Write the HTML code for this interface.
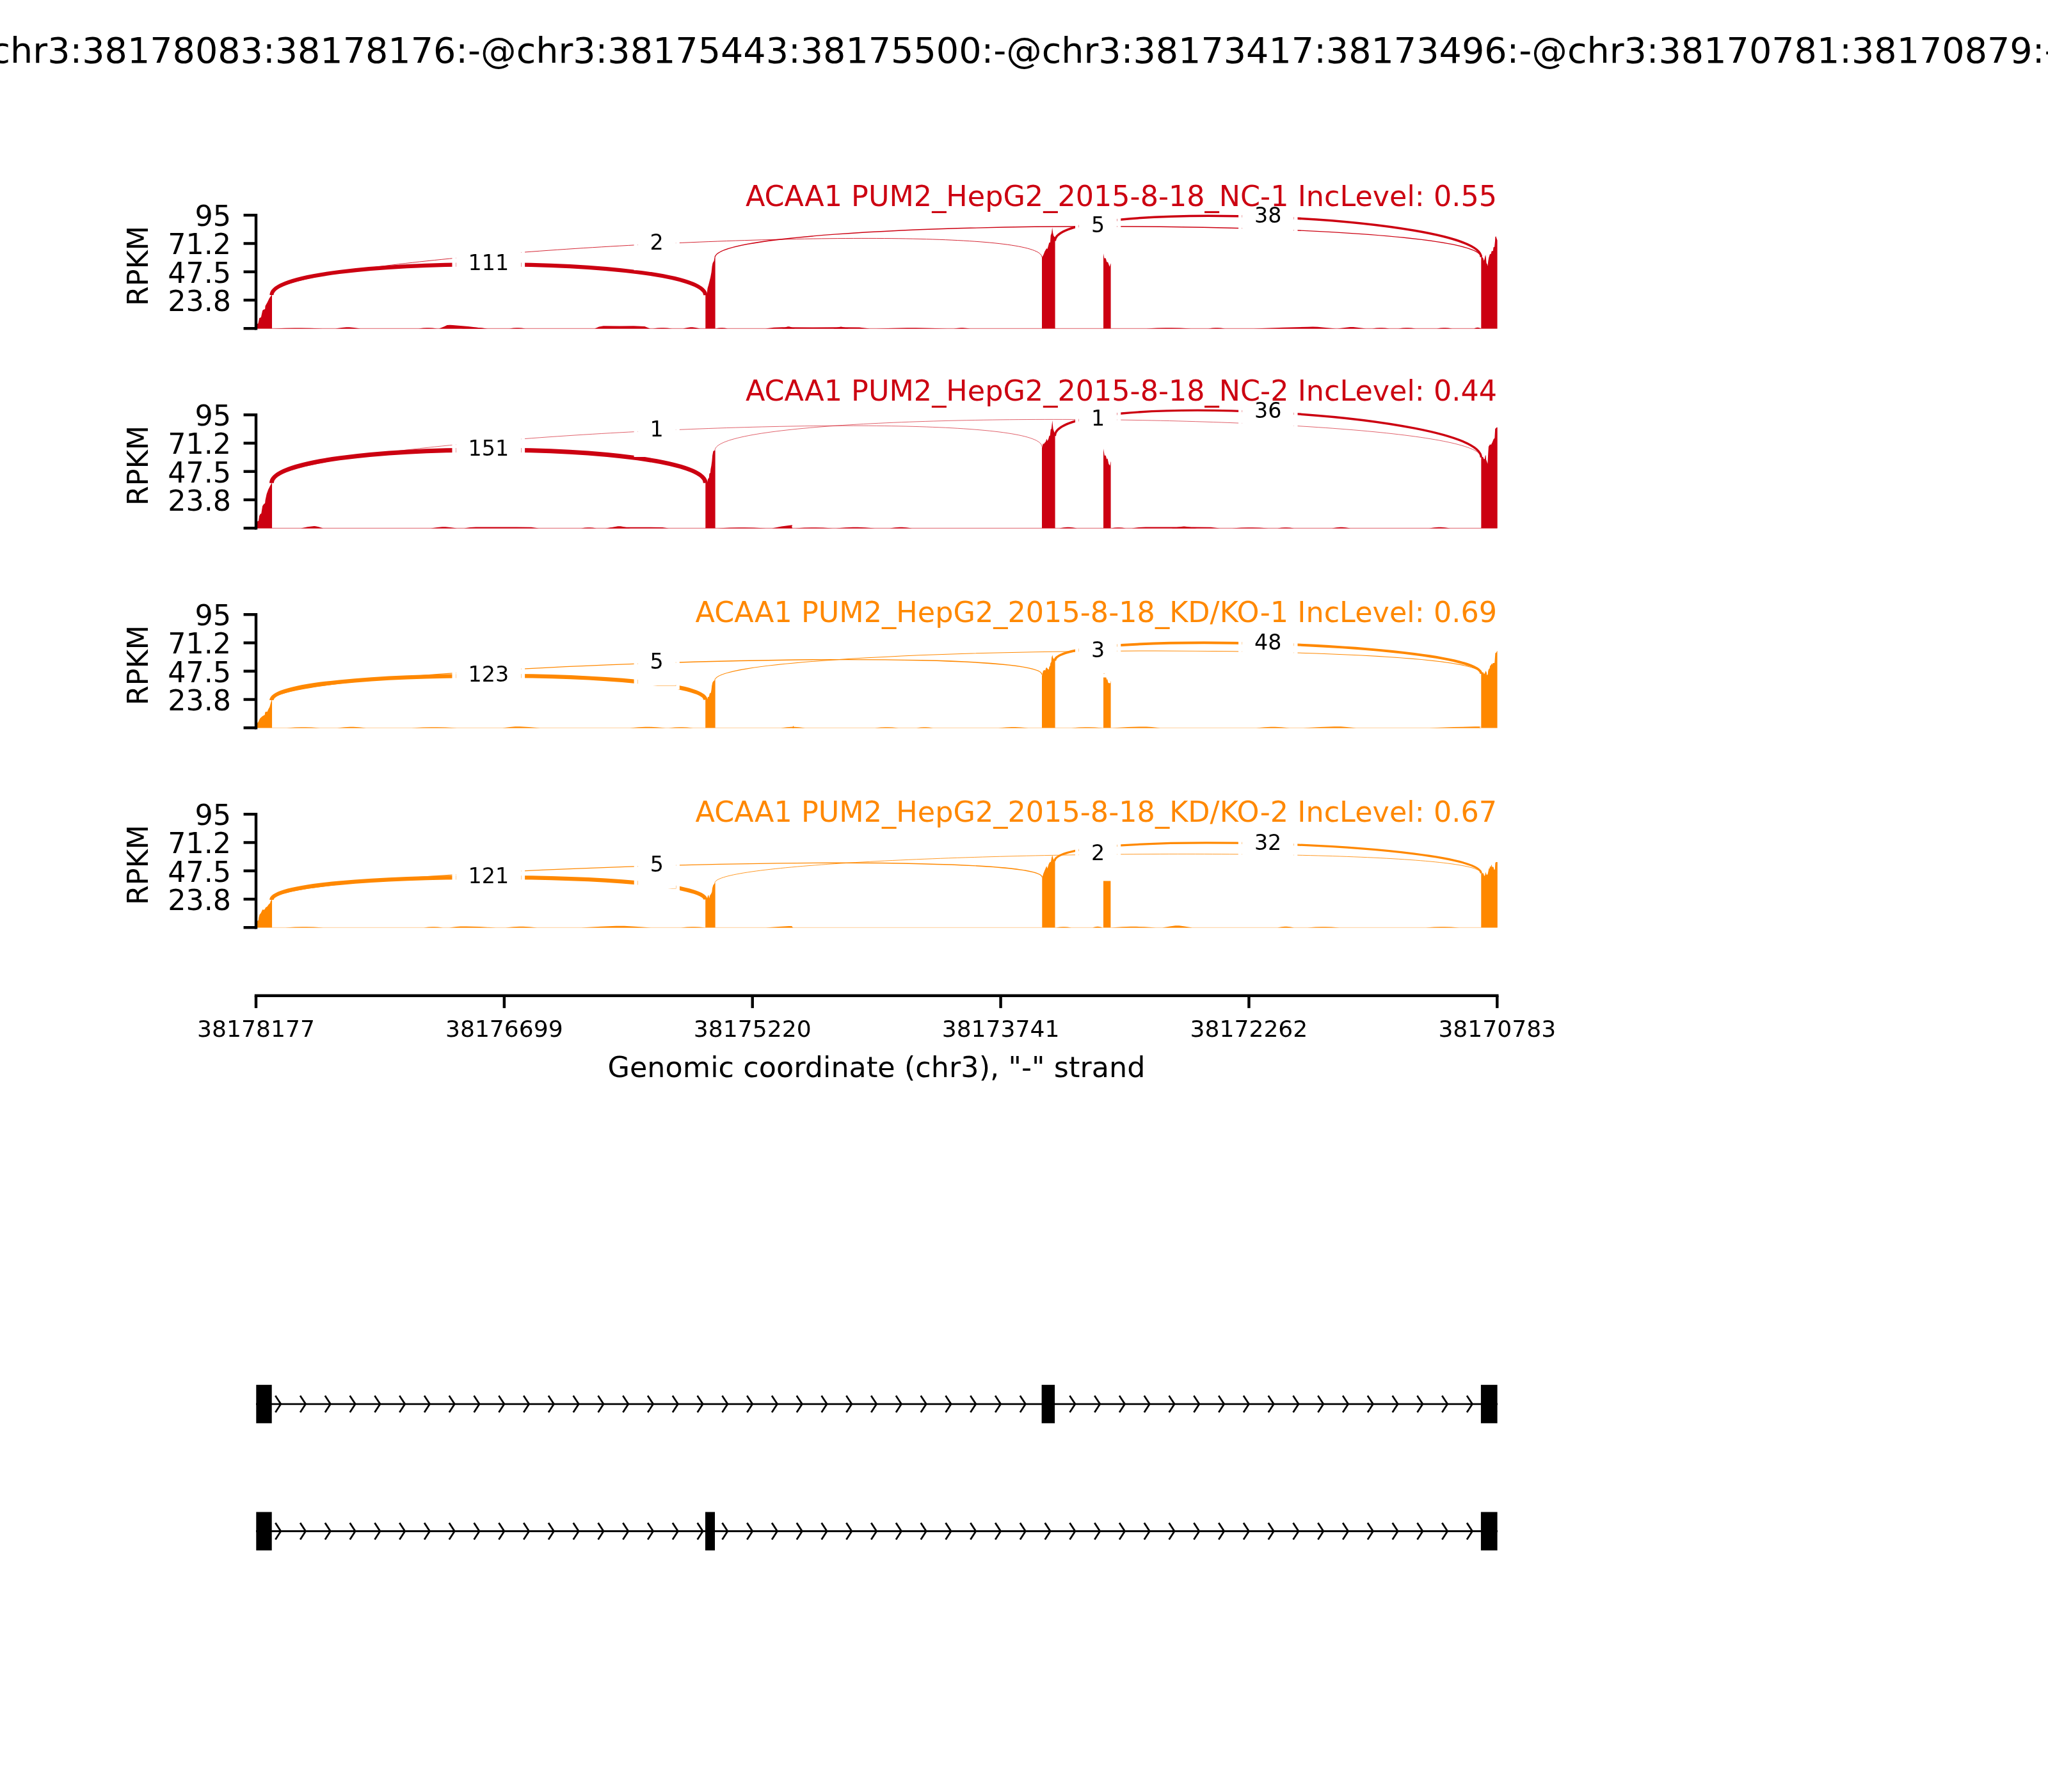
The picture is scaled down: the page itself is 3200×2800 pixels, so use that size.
<!DOCTYPE html>
<html lang="en"><head><meta charset="utf-8"><title>Sashimi plot</title>
<style>html,body{margin:0;padding:0;background:#fff;}body{width:3200px;height:2800px;overflow:hidden;}svg{display:block;}</style>
</head><body>
<svg width="3200" height="2800" viewBox="0 0 3200 2800" font-family='"DejaVu Sans", "Liberation Sans", sans-serif'>
<rect x="0" y="0" width="3200" height="2800" fill="#fff"/>
<g>
<line x1="402" y1="513.3" x2="2339.5" y2="513.3" stroke="#CC0011" stroke-width="1" stroke-opacity="0.62"/>
<path d="M427 513.6 L446.25 512.72 L460.88 512.44 L465.5 512.4 L470.12 512.44 L484.75 512.72 L504 513.6Z" fill="#CC0011"/>
<path d="M524 513.6 L533.75 512 L541.16 511.3 L543.5 511.2 L545.84 511.3 L553.25 512 L563 513.6Z" fill="#CC0011"/>
<path d="M654 513.6 L661.25 512.6 L666.76 512.25 L668.5 512.2 L670.24 512.25 L675.75 512.6 L683 513.6Z" fill="#CC0011"/>
<path d="M686 513.6 L694.51 509.96 L698.58 508.07 L703.02 507.8 L707.46 508.07 L731.51 509.96 L760 513.6Z" fill="#CC0011"/>
<path d="M720 513.6 L730.5 512.3 L738.48 511.78 L741 511.7 L743.52 511.78 L751.5 512.3 L762 513.6Z" fill="#CC0011"/>
<path d="M796 513.6 L802.25 512.6 L807 512.25 L808.5 512.2 L810 512.25 L814.75 512.6 L821 513.6Z" fill="#CC0011"/>
<path d="M929 513.6 L935.96 510.4 L942.92 509.2 L968.15 509.6 L989.9 509.2 L1007.3 510 L1016 513.6Z" fill="#CC0011"/>
<path d="M1020 513.6 L1027.5 512.6 L1033.2 512.25 L1035 512.2 L1036.8 512.25 L1042.5 512.6 L1050 513.6Z" fill="#CC0011"/>
<path d="M1067 513.6 L1073.75 512 L1078.88 511.3 L1080.5 511.2 L1082.12 511.3 L1087.25 512 L1094 513.6Z" fill="#CC0011"/>
<path d="M1118 513.6 L1122.75 512.6 L1126.36 512.25 L1127.5 512.2 L1128.64 512.25 L1132.25 512.6 L1137 513.6Z" fill="#CC0011"/>
<path d="M1196 513.6 L1209.04 511.8 L1222.08 511.2 L1269.35 511.4 L1310.1 511.2 L1342.7 511.6 L1359 513.6Z" fill="#CC0011"/>
<path d="M1222 513.6 L1227 511.4 L1230.8 510.35 L1232 510.2 L1233.2 510.35 L1237 511.4 L1242 513.6Z" fill="#CC0011"/>
<path d="M1302 513.6 L1308 511.64 L1312.56 510.73 L1314 510.6 L1315.44 510.73 L1320 511.64 L1326 513.6Z" fill="#CC0011"/>
<path d="M1369 513.6 L1396.75 512.66 L1417.84 512.35 L1424.5 512.3 L1431.16 512.35 L1452.25 512.66 L1480 513.6Z" fill="#CC0011"/>
<path d="M1490 513.6 L1496.5 512.66 L1501.44 512.35 L1503 512.3 L1504.56 512.35 L1509.5 512.66 L1516 513.6Z" fill="#CC0011"/>
<path d="M1791 513.6 L1808.5 512.6 L1821.8 512.25 L1826 512.2 L1830.2 512.25 L1843.5 512.6 L1861 513.6Z" fill="#CC0011"/>
<path d="M1888 513.6 L1894.5 512.6 L1899.44 512.25 L1901 512.2 L1902.56 512.25 L1907.5 512.6 L1914 513.6Z" fill="#CC0011"/>
<path d="M1959 513.6 L2005.08 511.64 L2043.48 510.73 L2051.16 510.6 L2058.84 510.73 L2069.08 511.64 L2087 513.6Z" fill="#CC0011"/>
<path d="M2090 513.6 L2101 511.88 L2109.36 511.11 L2112 511 L2114.64 511.11 L2123 511.88 L2134 513.6Z" fill="#CC0011"/>
<path d="M2144 513.6 L2150.75 512.6 L2155.88 512.25 L2157.5 512.2 L2159.12 512.25 L2164.25 512.6 L2171 513.6Z" fill="#CC0011"/>
<path d="M2185 513.6 L2191.75 512.6 L2196.88 512.25 L2198.5 512.2 L2200.12 512.25 L2205.25 512.6 L2212 513.6Z" fill="#CC0011"/>
<path d="M2245 513.6 L2251 512.6 L2255.56 512.25 L2257 512.2 L2258.44 512.25 L2263 512.6 L2269 513.6Z" fill="#CC0011"/>
<path d="M2303 513.6 L2305.88 512.3 L2308.06 511.78 L2308.75 511.7 L2309.44 511.78 L2311.62 512.3 L2314.5 513.6Z" fill="#CC0011"/>
<path d="M401 513.2 L401 507.5 L402.05 506.1 L403.4 505.6 L405.2 497.1 L407.9 495.8 L410.1 485.5 L411.4 484 L414.1 482.9 L414.55 477.9 L417.7 472.6 L420.8 465.9 L424.4 461 L425 461 L425 513.2Z" fill="#CC0011"/>
<path d="M1102.3 513.2 L1102.3 461.3 L1104.6 458.3 L1105.6 450.3 L1107.1 445.2 L1108.6 439.2 L1110.1 433.2 L1111.6 425.2 L1112.6 416.1 L1113.6 411.1 L1115.6 407.6 L1116.4 402.6 L1117.6 402.6 L1117.6 513.2Z" fill="#CC0011"/>
<path d="M1628 513.2 L1628 402.5 L1630.2 398.4 L1632.5 392.7 L1635.3 387.9 L1636.6 388.9 L1638.2 383.2 L1639.4 379 L1641 378.7 L1641.7 367.9 L1643.2 364.1 L1644.1 355.2 L1645.2 364.1 L1646.1 367.9 L1647.7 370.2 L1648.6 371.1 L1648.6 513.2Z" fill="#CC0011"/>
<path d="M1724.05 513.2 L1724.05 395.9 L1725.4 403.5 L1727.7 403.5 L1729.3 409.2 L1731.2 409.8 L1733.7 416.8 L1735.3 411.7 L1735.6 412 L1735.6 513.2Z" fill="#CC0011"/>
<path d="M2314.3 513.2 L2314.3 401.8 L2316.8 402.2 L2317.7 404 L2318.6 407.6 L2319.5 404.9 L2320.4 400.4 L2321.25 398.2 L2321.9 403.6 L2322.6 411.2 L2323.7 412.5 L2324.5 415.8 L2325.3 408 L2326.2 402.7 L2327.9 397.3 L2329.7 396.4 L2330.6 392.4 L2332.9 392 L2333.5 386.6 L2335.1 385.7 L2336 376.8 L2336.4 370.1 L2337.4 369.2 L2338.4 372.3 L2339.55 375.4 L2339.55 513.2Z" fill="#CC0011"/>
<path d="M424.4 461 C424.4 396.93 1102.2 397.23 1102.2 461.3" fill="none" stroke="#CC0011" stroke-width="6.1"/>
<path d="M424.4 461 C424.4 393.87 1628 334.87 1628 402" fill="none" stroke="#CC0011" stroke-width="0.85"/>
<path d="M1117 402.6 C1117 338.07 2314.3 337.27 2314.3 401.8" fill="none" stroke="#CC0011" stroke-width="1.38"/>
<path d="M1648.3 376.6 C1648.3 309.8 2314.3 335 2314.3 401.8" fill="none" stroke="#CC0011" stroke-width="3.55"/>
<path fill-rule="evenodd" fill="#fff" d="M706.49 371.97h113.62v82.27h-113.62ZM712.04 377.52h102.51v71.16h-102.51Z"/>
<rect x="712.42" y="377.9" width="101.75" height="70.4" fill="#fff"/>
<path fill-rule="evenodd" fill="#fff" d="M990.6 340.02h71.21v82.27h-71.21ZM996.15 345.57h60.1v71.16h-60.1Z"/>
<rect x="996.53" y="345.95" width="59.34" height="70.4" fill="#fff"/>
<path fill-rule="evenodd" fill="#fff" d="M1680.05 312.67h71.21v82.27h-71.21ZM1685.6 318.22h60.1v71.16h-60.1Z"/>
<rect x="1685.98" y="318.6" width="59.34" height="70.4" fill="#fff"/>
<path fill-rule="evenodd" fill="#fff" d="M1935.09 297.97h92.42v82.27h-92.42ZM1940.65 303.52h81.3v71.16h-81.3Z"/>
<rect x="1941.03" y="303.9" width="80.54" height="70.4" fill="#fff"/>
<path d="M400 333.98 V515.42" stroke="#000" stroke-width="4.44" fill="none"/>
<path d="M400 336.2 H380.56" stroke="#000" stroke-width="4.44" fill="none"/>
<path d="M400 380.45 H380.56" stroke="#000" stroke-width="4.44" fill="none"/>
<path d="M400 424.7 H380.56" stroke="#000" stroke-width="4.44" fill="none"/>
<path d="M400 468.95 H380.56" stroke="#000" stroke-width="4.44" fill="none"/>
<path d="M400 513.2 H380.56" stroke="#000" stroke-width="4.44" fill="none"/>
</g>
<g>
<line x1="402" y1="825.3" x2="2339.5" y2="825.3" stroke="#CC0011" stroke-width="1" stroke-opacity="0.62"/>
<path d="M470 825.6 L480.5 823.28 L488.9 822.16 L491 822 L493.1 822.16 L498 823.28 L505 825.6Z" fill="#CC0011"/>
<path d="M673 825.6 L683.25 824 L691.04 823.3 L693.5 823.2 L695.96 823.3 L703.75 824 L714 825.6Z" fill="#CC0011"/>
<path d="M725 825.6 L734.36 823.94 L743.72 823.4 L777.65 823.58 L806.9 823.4 L830.3 823.76 L842 825.6Z" fill="#CC0011"/>
<path d="M908 825.6 L914 824.6 L918.56 824.25 L920 824.2 L921.44 824.25 L926 824.6 L932 825.6Z" fill="#CC0011"/>
<path d="M946 825.6 L953.92 824.15 L961.84 823.7 L990.55 823.85 L1015.3 823.7 L1035.1 824 L1045 825.6Z" fill="#CC0011"/>
<path d="M950 825.6 L958.75 823.4 L965.4 822.35 L967.5 822.2 L969.6 822.35 L976.25 823.4 L985 825.6Z" fill="#CC0011"/>
<path d="M1121 825.6 L1140 824.6 L1154.44 824.25 L1159 824.2 L1163.56 824.25 L1178 824.6 L1197 825.6Z" fill="#CC0011"/>
<path d="M1206 825.6 L1221.2 822.44 L1234.48 820.83 L1236.4 820.6 L1238.32 820.83 L1237.2 822.44 L1238 825.6Z" fill="#CC0011"/>
<path d="M1242 825.6 L1256.75 824.6 L1267.96 824.25 L1271.5 824.2 L1275.04 824.25 L1286.25 824.6 L1301 825.6Z" fill="#CC0011"/>
<path d="M1306 825.6 L1321.25 824.3 L1332.84 823.78 L1336.5 823.7 L1340.16 823.78 L1351.75 824.3 L1367 825.6Z" fill="#CC0011"/>
<path d="M1390 825.6 L1398.75 824.3 L1405.4 823.78 L1407.5 823.7 L1409.6 823.78 L1416.25 824.3 L1425 825.6Z" fill="#CC0011"/>
<path d="M1655 825.6 L1662 824.3 L1667.32 823.78 L1669 823.7 L1670.68 823.78 L1676 824.3 L1683 825.6Z" fill="#CC0011"/>
<path d="M1736 825.6 L1741.75 824.6 L1746.12 824.25 L1747.5 824.2 L1748.88 824.25 L1753.25 824.6 L1759 825.6Z" fill="#CC0011"/>
<path d="M1768 825.6 L1779.04 823.94 L1790.08 823.4 L1830.1 823.58 L1864.6 823.4 L1892.2 823.76 L1906 825.6Z" fill="#CC0011"/>
<path d="M1830 825.6 L1840 823.64 L1847.6 822.73 L1850 822.6 L1852.4 822.73 L1860 823.64 L1870 825.6Z" fill="#CC0011"/>
<path d="M1925 825.6 L1939.25 824.6 L1950.08 824.25 L1953.5 824.2 L1956.92 824.25 L1967.75 824.6 L1982 825.6Z" fill="#CC0011"/>
<path d="M1996 825.6 L2002.5 824.6 L2007.44 824.25 L2009 824.2 L2010.56 824.25 L2015.5 824.6 L2022 825.6Z" fill="#CC0011"/>
<path d="M2081 825.6 L2088.25 824.3 L2093.76 823.78 L2095.5 823.7 L2097.24 823.78 L2102.75 824.3 L2110 825.6Z" fill="#CC0011"/>
<path d="M2233 825.6 L2241.25 824.3 L2247.52 823.78 L2249.5 823.7 L2251.48 823.78 L2257.75 824.3 L2266 825.6Z" fill="#CC0011"/>
<path d="M401 825.2 L401 816 L402.05 814.8 L404.05 813.8 L405.1 806.3 L406.6 803.3 L408.3 802.3 L410.1 790.7 L412.1 787.7 L414.1 786.2 L414.6 781.2 L416.6 772.1 L419.1 765.1 L422.1 759.1 L424.4 755.1 L425.05 755.1 L425.05 825.2Z" fill="#CC0011"/>
<path d="M1102.3 825.2 L1102.3 754.8 L1105.1 753.8 L1106.1 748.8 L1107.85 746.3 L1108.35 740.25 L1109.85 738.7 L1110.35 733.2 L1111.4 727.7 L1112.4 720.2 L1113.1 712.1 L1114.4 705.1 L1116.4 703.85 L1117.6 703.85 L1117.6 825.2Z" fill="#CC0011"/>
<path d="M1628 825.2 L1628 699.7 L1629.9 692.7 L1630.9 694 L1632.1 692.05 L1634 690.1 L1635.3 685.4 L1636.6 688.9 L1638.2 685.7 L1639.4 681.3 L1640.7 680.6 L1641.7 671.1 L1642.9 669.8 L1644.3 657.1 L1645.5 669.8 L1646.7 673.6 L1647.7 676.2 L1648.6 678.1 L1648.6 825.2Z" fill="#CC0011"/>
<path d="M1724.05 825.2 L1724.05 700.9 L1725.8 711.7 L1727.7 711.7 L1729.3 717.4 L1730.5 716.2 L1732.4 725.1 L1734.3 727.6 L1735.3 721.25 L1735.6 721.5 L1735.6 825.2Z" fill="#CC0011"/>
<path d="M2314.35 825.2 L2314.35 714.8 L2316.1 713.8 L2317.4 714.3 L2318.6 717.3 L2319.9 717.3 L2320.6 712.3 L2321.5 711 L2322.1 718.3 L2323.4 721.8 L2324.4 724.8 L2325.15 710.25 L2325.9 697.7 L2328.2 694.2 L2329.7 694.9 L2331.7 691.2 L2333.7 686.15 L2335.4 684.6 L2336.2 670.1 L2338.95 667.6 L2339.7 668.1 L2339.7 825.2Z" fill="#CC0011"/>
<path d="M424.4 754.8 C424.4 685.73 1102.2 685.73 1102.2 754.8" fill="none" stroke="#CC0011" stroke-width="6.8"/>
<path d="M424.4 754.8 C424.4 683.47 1628 626.67 1628 698" fill="none" stroke="#CC0011" stroke-width="0.62"/>
<path d="M1117 703.85 C1117 632.35 2314.35 643.3 2314.35 714.8" fill="none" stroke="#CC0011" stroke-width="0.62"/>
<path d="M1648.3 681.3 C1648.3 609.37 2314.35 642.87 2314.35 714.8" fill="none" stroke="#CC0011" stroke-width="3.45"/>
<path fill-rule="evenodd" fill="#fff" d="M706.49 661.87h113.62v82.27h-113.62ZM712.04 667.42h102.51v71.16h-102.51Z"/>
<rect x="712.42" y="667.8" width="101.75" height="70.4" fill="#fff"/>
<path fill-rule="evenodd" fill="#fff" d="M990.6 631.77h71.21v82.27h-71.21ZM996.15 637.32h60.1v71.16h-60.1Z"/>
<rect x="996.53" y="637.7" width="59.34" height="70.4" fill="#fff"/>
<path fill-rule="evenodd" fill="#fff" d="M1680.07 614.57h71.21v82.27h-71.21ZM1685.63 620.12h60.1v71.16h-60.1Z"/>
<rect x="1686.01" y="620.5" width="59.34" height="70.4" fill="#fff"/>
<path fill-rule="evenodd" fill="#fff" d="M1935.12 602.97h92.42v82.27h-92.42ZM1940.67 608.52h81.3v71.16h-81.3Z"/>
<rect x="1941.05" y="608.9" width="80.54" height="70.4" fill="#fff"/>
<path d="M400 645.98 V827.42" stroke="#000" stroke-width="4.44" fill="none"/>
<path d="M400 648.2 H380.56" stroke="#000" stroke-width="4.44" fill="none"/>
<path d="M400 692.45 H380.56" stroke="#000" stroke-width="4.44" fill="none"/>
<path d="M400 736.7 H380.56" stroke="#000" stroke-width="4.44" fill="none"/>
<path d="M400 780.95 H380.56" stroke="#000" stroke-width="4.44" fill="none"/>
<path d="M400 825.2 H380.56" stroke="#000" stroke-width="4.44" fill="none"/>
</g>
<g>
<line x1="402" y1="1137.3" x2="2339.5" y2="1137.3" stroke="#FF8800" stroke-width="1" stroke-opacity="0.4"/>
<path d="M448 1137.6 L461 1136.6 L470.88 1136.25 L474 1136.2 L477.12 1136.25 L487 1136.6 L500 1137.6Z" fill="#FF8800"/>
<path d="M527 1137.6 L538.25 1136.3 L546.8 1135.78 L549.5 1135.7 L552.2 1135.78 L560.75 1136.3 L572 1137.6Z" fill="#FF8800"/>
<path d="M643 1137.6 L660.75 1136.6 L674.24 1136.25 L678.5 1136.2 L682.76 1136.25 L696.25 1136.6 L714 1137.6Z" fill="#FF8800"/>
<path d="M785 1137.6 L796.8 1136 L805.06 1135.3 L808.6 1135.2 L812.14 1135.3 L826.3 1136 L844 1137.6Z" fill="#FF8800"/>
<path d="M984 1137.6 L998 1136.3 L1008.64 1135.78 L1012 1135.7 L1015.36 1135.78 L1026 1136.3 L1040 1137.6Z" fill="#FF8800"/>
<path d="M1045 1137.6 L1054.5 1136.6 L1061.72 1136.25 L1064 1136.2 L1066.28 1136.25 L1073.5 1136.6 L1083 1137.6Z" fill="#FF8800"/>
<path d="M1220 1137.6 L1229.5 1136.3 L1236.72 1135.78 L1239 1135.7 L1241.28 1135.78 L1248.5 1136.3 L1258 1137.6Z" fill="#FF8800"/>
<path d="M1238 1137.6 L1238.75 1135.4 L1239.32 1134.35 L1239.5 1134.2 L1239.68 1134.35 L1240.25 1135.4 L1241 1137.6Z" fill="#FF8800"/>
<path d="M1367 1137.6 L1376.25 1136.6 L1383.28 1136.25 L1385.5 1136.2 L1387.72 1136.25 L1394.75 1136.6 L1404 1137.6Z" fill="#FF8800"/>
<path d="M1432 1137.6 L1438.5 1136.6 L1443.44 1136.25 L1445 1136.2 L1446.56 1136.25 L1451.5 1136.6 L1458 1137.6Z" fill="#FF8800"/>
<path d="M1560 1137.6 L1571.75 1136.48 L1580.68 1136.06 L1583.5 1136 L1586.32 1136.06 L1595.25 1136.48 L1607 1137.6Z" fill="#FF8800"/>
<path d="M1674 1137.6 L1686.25 1136.6 L1695.56 1136.25 L1698.5 1136.2 L1701.44 1136.25 L1710.75 1136.6 L1723 1137.6Z" fill="#FF8800"/>
<path d="M1738 1137.6 L1762.38 1136.12 L1782.25 1135.49 L1786.75 1135.4 L1791.25 1135.49 L1799.88 1136.12 L1813 1137.6Z" fill="#FF8800"/>
<path d="M1963 1137.6 L1976 1136.3 L1985.88 1135.78 L1989 1135.7 L1992.12 1135.78 L2002 1136.3 L2015 1137.6Z" fill="#FF8800"/>
<path d="M2036 1137.6 L2062.97 1136 L2084.97 1135.3 L2089.95 1135.2 L2094.93 1135.3 L2104.47 1136 L2119 1137.6Z" fill="#FF8800"/>
<path d="M2233 1137.6 L2271.24 1136 L2304.64 1135.3 L2309.47 1135.2 L2314.3 1135.3 L2311.49 1136 L2313.5 1137.6Z" fill="#FF8800"/>
<path d="M401 1137.2 L401 1130.2 L402.05 1129.4 L403.4 1128.5 L405.2 1124.5 L406.5 1122.2 L410.1 1119.1 L413.7 1116.9 L414.3 1112.9 L415.45 1112 L417.7 1112 L419 1108.8 L421.25 1104.8 L423 1098.6 L424.4 1094.1 L425.05 1094.1 L425.05 1137.2Z" fill="#FF8800"/>
<path d="M1102.2 1137.2 L1102.2 1093.5 L1105.3 1092.3 L1105.9 1089.2 L1107.85 1088.4 L1108.8 1083.75 L1110.8 1082.2 L1111.6 1077.5 L1112.3 1071.25 L1113.3 1066.6 L1114.7 1064.2 L1116.6 1062.85 L1117.6 1062.85 L1117.6 1137.2Z" fill="#FF8800"/>
<path d="M1628 1137.2 L1628 1055.9 L1629.9 1048.2 L1631.5 1047 L1633.4 1047.6 L1634 1044.4 L1635.3 1042.8 L1636.9 1045.1 L1638.8 1046.3 L1639.4 1041.9 L1640.7 1040.6 L1641.3 1036.2 L1642.6 1034.3 L1643.2 1027.3 L1644.4 1023.5 L1645.5 1028.6 L1647.05 1029.8 L1648.6 1031.7 L1648.6 1137.2Z" fill="#FF8800"/>
<path d="M1724.05 1137.2 L1724.05 1047 L1726 1052 L1727.3 1054.5 L1728.6 1059.2 L1729.3 1062.2 L1730.2 1060.9 L1731.5 1066.65 L1733.1 1067.6 L1735 1067.3 L1735.4 1064.1 L1735.6 1064.3 L1735.6 1137.2Z" fill="#FF8800"/>
<path d="M2314.3 1137.2 L2314.3 1052.7 L2315.9 1050.4 L2317.7 1050.4 L2319 1053.6 L2320.4 1050.9 L2321.5 1048 L2322.8 1050.9 L2323.3 1054.9 L2324.6 1054 L2325.3 1048.2 L2326.2 1045.5 L2327.5 1044.2 L2328.2 1040.6 L2329.95 1038.8 L2330.4 1036.6 L2331.3 1038.4 L2332.4 1036.2 L2335.3 1035.7 L2335.8 1029 L2336.4 1020.5 L2338 1019.6 L2339.3 1017 L2339.55 1017 L2339.55 1137.2Z" fill="#FF8800"/>
<path d="M424.4 1094.1 C424.4 1043.57 1102.2 1042.97 1102.2 1093.5" fill="none" stroke="#FF8800" stroke-width="6.4"/>
<path d="M424.4 1094.1 C424.4 1043.5 1628 1003.4 1628 1054" fill="none" stroke="#FF8800" stroke-width="1.38"/>
<path d="M1117 1062.85 C1117 1009.02 2314.3 998.87 2314.3 1052.7" fill="none" stroke="#FF8800" stroke-width="1.02"/>
<path d="M1648.3 1032.4 C1648.3 983.4 2314.3 1003.7 2314.3 1052.7" fill="none" stroke="#FF8800" stroke-width="3.95"/>
<path fill-rule="evenodd" fill="#fff" d="M706.49 1014.77h113.62v82.27h-113.62ZM712.04 1020.32h102.51v71.16h-102.51Z"/>
<rect x="712.42" y="1020.7" width="101.75" height="70.4" fill="#fff"/>
<path fill-rule="evenodd" fill="#fff" d="M990.6 994.97h71.21v82.27h-71.21ZM996.15 1000.52h60.1v71.16h-60.1Z"/>
<rect x="996.53" y="1000.9" width="59.34" height="70.4" fill="#fff"/>
<path fill-rule="evenodd" fill="#fff" d="M1680.05 976.27h71.21v82.27h-71.21ZM1685.6 981.82h60.1v71.16h-60.1Z"/>
<rect x="1685.98" y="982.2" width="59.34" height="70.4" fill="#fff"/>
<path fill-rule="evenodd" fill="#fff" d="M1935.09 964.67h92.42v82.27h-92.42ZM1940.65 970.22h81.3v71.16h-81.3Z"/>
<rect x="1941.03" y="970.6" width="80.54" height="70.4" fill="#fff"/>
<path d="M400 957.98 V1139.42" stroke="#000" stroke-width="4.44" fill="none"/>
<path d="M400 960.2 H380.56" stroke="#000" stroke-width="4.44" fill="none"/>
<path d="M400 1004.45 H380.56" stroke="#000" stroke-width="4.44" fill="none"/>
<path d="M400 1048.7 H380.56" stroke="#000" stroke-width="4.44" fill="none"/>
<path d="M400 1092.95 H380.56" stroke="#000" stroke-width="4.44" fill="none"/>
<path d="M400 1137.2 H380.56" stroke="#000" stroke-width="4.44" fill="none"/>
</g>
<g>
<line x1="402" y1="1449.3" x2="2339.5" y2="1449.3" stroke="#FF8800" stroke-width="1" stroke-opacity="0.4"/>
<path d="M446 1449.6 L460.75 1448.6 L471.96 1448.25 L475.5 1448.2 L479.04 1448.25 L490.25 1448.6 L505 1449.6Z" fill="#FF8800"/>
<path d="M662 1449.6 L669.5 1448.6 L675.2 1448.25 L677 1448.2 L678.8 1448.25 L684.5 1448.6 L692 1449.6Z" fill="#FF8800"/>
<path d="M702 1449.6 L712.95 1448.12 L719.52 1447.49 L723.9 1447.4 L728.28 1447.49 L749.45 1448.12 L775 1449.6Z" fill="#FF8800"/>
<path d="M790 1449.6 L802.25 1448.3 L811.56 1447.78 L814.5 1447.7 L817.44 1447.78 L826.75 1448.3 L839 1449.6Z" fill="#FF8800"/>
<path d="M908 1449.6 L938.52 1447.7 L962.5 1446.83 L969.04 1446.7 L975.58 1446.83 L993.02 1447.7 L1017 1449.6Z" fill="#FF8800"/>
<path d="M1064 1449.6 L1073.5 1448.6 L1080.72 1448.25 L1083 1448.2 L1085.28 1448.25 L1092.5 1448.6 L1102 1449.6Z" fill="#FF8800"/>
<path d="M1197 1449.6 L1216.12 1447.88 L1232.7 1447.11 L1235.25 1447 L1237.8 1447.11 L1237.38 1447.88 L1239.5 1449.6Z" fill="#FF8800"/>
<path d="M1650 1449.6 L1656 1448.6 L1660.56 1448.25 L1662 1448.2 L1663.44 1448.25 L1668 1448.6 L1674 1449.6Z" fill="#FF8800"/>
<path d="M1707 1449.6 L1711 1448.3 L1714.04 1447.78 L1715 1447.7 L1715.96 1447.78 L1719 1448.3 L1723 1449.6Z" fill="#FF8800"/>
<path d="M1736 1449.6 L1753.5 1448.3 L1766.8 1447.78 L1771 1447.7 L1775.2 1447.78 L1788.5 1448.3 L1806 1449.6Z" fill="#FF8800"/>
<path d="M1816 1449.6 L1827.75 1447.4 L1836.68 1446.35 L1839.5 1446.2 L1842.32 1446.35 L1851.25 1447.4 L1863 1449.6Z" fill="#FF8800"/>
<path d="M1996 1449.6 L2002.5 1448.3 L2007.44 1447.78 L2009 1447.7 L2010.56 1447.78 L2015.5 1448.3 L2022 1449.6Z" fill="#FF8800"/>
<path d="M2043 1449.6 L2055.5 1448.6 L2065 1448.25 L2068 1448.2 L2071 1448.25 L2080.5 1448.6 L2093 1449.6Z" fill="#FF8800"/>
<path d="M2228 1449.6 L2241 1448.6 L2250.88 1448.25 L2254 1448.2 L2257.12 1448.25 L2267 1448.6 L2280 1449.6Z" fill="#FF8800"/>
<path d="M401 1449.2 L401 1439.6 L402.05 1438.9 L403.8 1438 L404.5 1432.7 L405.6 1429.1 L407.4 1426.9 L408.75 1424.2 L410.3 1421.1 L412.3 1421.7 L414.1 1420.2 L414.55 1418.4 L417.7 1416.2 L419.9 1413 L421.9 1411.25 L423 1407.7 L424.4 1405.9 L425.05 1405.9 L425.05 1449.2Z" fill="#FF8800"/>
<path d="M1102.2 1449.2 L1102.2 1405.5 L1104.9 1403.9 L1106.3 1398.8 L1107.3 1399.2 L1108.2 1403.5 L1109.2 1399.2 L1110.8 1396.9 L1112.3 1393.75 L1113.1 1387.5 L1114.3 1383.2 L1115.9 1380.9 L1116.8 1379.7 L1117.6 1379.7 L1117.6 1449.2Z" fill="#FF8800"/>
<path d="M1628.3 1449.2 L1628.3 1371.8 L1630.3 1365 L1633.2 1358.1 L1635.2 1353.2 L1636.6 1357.1 L1638.6 1350.3 L1640 1347.4 L1642 1346.4 L1643.5 1338.6 L1644.4 1336.6 L1645.9 1342.5 L1647.4 1343.5 L1648.5 1344.5 L1648.5 1449.2Z" fill="#FF8800"/>
<path d="M1724 1449.2 L1724 1373 L1735.4 1374.5 L1735.4 1449.2Z" fill="#FF8800"/>
<path d="M2314.3 1449.2 L2314.3 1364.6 L2315.9 1364.6 L2317.2 1364 L2318.35 1366 L2319.2 1369.1 L2320.4 1367.3 L2321.5 1362.6 L2322.4 1366 L2323.5 1367.3 L2324.6 1365.5 L2325.5 1361.5 L2326.4 1357.05 L2327.5 1357.05 L2328.2 1353 L2329.3 1355.3 L2330.4 1350.8 L2331.5 1354.4 L2333.5 1354.8 L2334.6 1358.8 L2335.8 1358.8 L2336.4 1348.6 L2337.3 1347 L2339.8 1347 L2339.8 1449.2Z" fill="#FF8800"/>
<path d="M424.4 1405.9 C424.4 1359.5 1102.2 1359.1 1102.2 1405.5" fill="none" stroke="#FF8800" stroke-width="6.35"/>
<path d="M424.4 1405.9 C424.4 1358.63 1628.3 1323.53 1628.3 1370.8" fill="none" stroke="#FF8800" stroke-width="1.38"/>
<path d="M1116.9 1379.7 C1116.9 1330.5 2314.3 1315.4 2314.3 1364.6" fill="none" stroke="#FF8800" stroke-width="0.85"/>
<path d="M1647.9 1345.4 C1647.9 1296.6 2314.3 1315.8 2314.3 1364.6" fill="none" stroke="#FF8800" stroke-width="3.25"/>
<path fill-rule="evenodd" fill="#fff" d="M706.49 1329.77h113.62v82.27h-113.62ZM712.04 1335.32h102.51v71.16h-102.51Z"/>
<rect x="712.42" y="1335.7" width="101.75" height="70.4" fill="#fff"/>
<path fill-rule="evenodd" fill="#fff" d="M990.75 1311.77h71.21v82.27h-71.21ZM996.3 1317.32h60.1v71.16h-60.1Z"/>
<rect x="996.68" y="1317.7" width="59.34" height="70.4" fill="#fff"/>
<path fill-rule="evenodd" fill="#fff" d="M1680 1294.12h71.21v82.27h-71.21ZM1685.55 1299.67h60.1v71.16h-60.1Z"/>
<rect x="1685.93" y="1300.05" width="59.34" height="70.4" fill="#fff"/>
<path fill-rule="evenodd" fill="#fff" d="M1934.89 1277.27h92.42v82.27h-92.42ZM1940.45 1282.82h81.3v71.16h-81.3Z"/>
<rect x="1940.83" y="1283.2" width="80.54" height="70.4" fill="#fff"/>
<path d="M400 1269.98 V1451.42" stroke="#000" stroke-width="4.44" fill="none"/>
<path d="M400 1272.2 H380.56" stroke="#000" stroke-width="4.44" fill="none"/>
<path d="M400 1316.45 H380.56" stroke="#000" stroke-width="4.44" fill="none"/>
<path d="M400 1360.7 H380.56" stroke="#000" stroke-width="4.44" fill="none"/>
<path d="M400 1404.95 H380.56" stroke="#000" stroke-width="4.44" fill="none"/>
<path d="M400 1449.2 H380.56" stroke="#000" stroke-width="4.44" fill="none"/>
</g>
<path d="M397.78 1555.7 H2341.52" stroke="#000" stroke-width="4.44" fill="none"/>
<path d="M400 1555.7 V1575.14" stroke="#000" stroke-width="4.44" fill="none"/>
<path d="M787.86 1555.7 V1575.14" stroke="#000" stroke-width="4.44" fill="none"/>
<path d="M1175.72 1555.7 V1575.14" stroke="#000" stroke-width="4.44" fill="none"/>
<path d="M1563.58 1555.7 V1575.14" stroke="#000" stroke-width="4.44" fill="none"/>
<path d="M1951.44 1555.7 V1575.14" stroke="#000" stroke-width="4.44" fill="none"/>
<path d="M2339.3 1555.7 V1575.14" stroke="#000" stroke-width="4.44" fill="none"/>
<path d="M400 2193.8 H2340" stroke="#000" stroke-width="2.78" fill="none"/>
<path d="M431.03 2181.9 L438.79 2193.8 L431.03 2205.7M469.81 2181.9 L477.57 2193.8 L469.81 2205.7M508.6 2181.9 L516.36 2193.8 L508.6 2205.7M547.39 2181.9 L555.14 2193.8 L547.39 2205.7M586.17 2181.9 L593.93 2193.8 L586.17 2205.7M624.96 2181.9 L632.72 2193.8 L624.96 2205.7M663.74 2181.9 L671.5 2193.8 L663.74 2205.7M702.53 2181.9 L710.29 2193.8 L702.53 2205.7M741.32 2181.9 L749.07 2193.8 L741.32 2205.7M780.1 2181.9 L787.86 2193.8 L780.1 2205.7M818.89 2181.9 L826.65 2193.8 L818.89 2205.7M857.67 2181.9 L865.43 2193.8 L857.67 2205.7M896.46 2181.9 L904.22 2193.8 L896.46 2205.7M935.25 2181.9 L943 2193.8 L935.25 2205.7M974.03 2181.9 L981.79 2193.8 L974.03 2205.7M1012.82 2181.9 L1020.58 2193.8 L1012.82 2205.7M1051.6 2181.9 L1059.36 2193.8 L1051.6 2205.7M1090.39 2181.9 L1098.15 2193.8 L1090.39 2205.7M1129.18 2181.9 L1136.93 2193.8 L1129.18 2205.7M1167.96 2181.9 L1175.72 2193.8 L1167.96 2205.7M1206.75 2181.9 L1214.51 2193.8 L1206.75 2205.7M1245.53 2181.9 L1253.29 2193.8 L1245.53 2205.7M1284.32 2181.9 L1292.08 2193.8 L1284.32 2205.7M1323.11 2181.9 L1330.86 2193.8 L1323.11 2205.7M1361.89 2181.9 L1369.65 2193.8 L1361.89 2205.7M1400.68 2181.9 L1408.44 2193.8 L1400.68 2205.7M1439.46 2181.9 L1447.22 2193.8 L1439.46 2205.7M1478.25 2181.9 L1486.01 2193.8 L1478.25 2205.7M1517.04 2181.9 L1524.79 2193.8 L1517.04 2205.7M1555.82 2181.9 L1563.58 2193.8 L1555.82 2205.7M1594.61 2181.9 L1602.37 2193.8 L1594.61 2205.7M1633.39 2181.9 L1641.15 2193.8 L1633.39 2205.7M1672.18 2181.9 L1679.94 2193.8 L1672.18 2205.7M1710.97 2181.9 L1718.72 2193.8 L1710.97 2205.7M1749.75 2181.9 L1757.51 2193.8 L1749.75 2205.7M1788.54 2181.9 L1796.3 2193.8 L1788.54 2205.7M1827.32 2181.9 L1835.08 2193.8 L1827.32 2205.7M1866.11 2181.9 L1873.87 2193.8 L1866.11 2205.7M1904.9 2181.9 L1912.65 2193.8 L1904.9 2205.7M1943.68 2181.9 L1951.44 2193.8 L1943.68 2205.7M1982.47 2181.9 L1990.23 2193.8 L1982.47 2205.7M2021.25 2181.9 L2029.01 2193.8 L2021.25 2205.7M2060.04 2181.9 L2067.8 2193.8 L2060.04 2205.7M2098.83 2181.9 L2106.58 2193.8 L2098.83 2205.7M2137.61 2181.9 L2145.37 2193.8 L2137.61 2205.7M2176.4 2181.9 L2184.16 2193.8 L2176.4 2205.7M2215.18 2181.9 L2222.94 2193.8 L2215.18 2205.7M2253.97 2181.9 L2261.73 2193.8 L2253.97 2205.7M2292.76 2181.9 L2300.51 2193.8 L2292.76 2205.7" stroke="#000" stroke-width="2.78" fill="none" stroke-linecap="square" stroke-linejoin="miter"/>
<rect x="400.3" y="2163.8" width="24.4" height="60" fill="#000"/>
<rect x="1627.6" y="2163.8" width="20.5" height="60" fill="#000"/>
<rect x="2313.9" y="2163.8" width="25.7" height="60" fill="#000"/>
<path d="M400 2392.5 H2340" stroke="#000" stroke-width="2.78" fill="none"/>
<path d="M431.03 2380.6 L438.79 2392.5 L431.03 2404.4M469.81 2380.6 L477.57 2392.5 L469.81 2404.4M508.6 2380.6 L516.36 2392.5 L508.6 2404.4M547.39 2380.6 L555.14 2392.5 L547.39 2404.4M586.17 2380.6 L593.93 2392.5 L586.17 2404.4M624.96 2380.6 L632.72 2392.5 L624.96 2404.4M663.74 2380.6 L671.5 2392.5 L663.74 2404.4M702.53 2380.6 L710.29 2392.5 L702.53 2404.4M741.32 2380.6 L749.07 2392.5 L741.32 2404.4M780.1 2380.6 L787.86 2392.5 L780.1 2404.4M818.89 2380.6 L826.65 2392.5 L818.89 2404.4M857.67 2380.6 L865.43 2392.5 L857.67 2404.4M896.46 2380.6 L904.22 2392.5 L896.46 2404.4M935.25 2380.6 L943 2392.5 L935.25 2404.4M974.03 2380.6 L981.79 2392.5 L974.03 2404.4M1012.82 2380.6 L1020.58 2392.5 L1012.82 2404.4M1051.6 2380.6 L1059.36 2392.5 L1051.6 2404.4M1090.39 2380.6 L1098.15 2392.5 L1090.39 2404.4M1129.18 2380.6 L1136.93 2392.5 L1129.18 2404.4M1167.96 2380.6 L1175.72 2392.5 L1167.96 2404.4M1206.75 2380.6 L1214.51 2392.5 L1206.75 2404.4M1245.53 2380.6 L1253.29 2392.5 L1245.53 2404.4M1284.32 2380.6 L1292.08 2392.5 L1284.32 2404.4M1323.11 2380.6 L1330.86 2392.5 L1323.11 2404.4M1361.89 2380.6 L1369.65 2392.5 L1361.89 2404.4M1400.68 2380.6 L1408.44 2392.5 L1400.68 2404.4M1439.46 2380.6 L1447.22 2392.5 L1439.46 2404.4M1478.25 2380.6 L1486.01 2392.5 L1478.25 2404.4M1517.04 2380.6 L1524.79 2392.5 L1517.04 2404.4M1555.82 2380.6 L1563.58 2392.5 L1555.82 2404.4M1594.61 2380.6 L1602.37 2392.5 L1594.61 2404.4M1633.39 2380.6 L1641.15 2392.5 L1633.39 2404.4M1672.18 2380.6 L1679.94 2392.5 L1672.18 2404.4M1710.97 2380.6 L1718.72 2392.5 L1710.97 2404.4M1749.75 2380.6 L1757.51 2392.5 L1749.75 2404.4M1788.54 2380.6 L1796.3 2392.5 L1788.54 2404.4M1827.32 2380.6 L1835.08 2392.5 L1827.32 2404.4M1866.11 2380.6 L1873.87 2392.5 L1866.11 2404.4M1904.9 2380.6 L1912.65 2392.5 L1904.9 2404.4M1943.68 2380.6 L1951.44 2392.5 L1943.68 2404.4M1982.47 2380.6 L1990.23 2392.5 L1982.47 2404.4M2021.25 2380.6 L2029.01 2392.5 L2021.25 2404.4M2060.04 2380.6 L2067.8 2392.5 L2060.04 2404.4M2098.83 2380.6 L2106.58 2392.5 L2098.83 2404.4M2137.61 2380.6 L2145.37 2392.5 L2137.61 2404.4M2176.4 2380.6 L2184.16 2392.5 L2176.4 2404.4M2215.18 2380.6 L2222.94 2392.5 L2215.18 2404.4M2253.97 2380.6 L2261.73 2392.5 L2253.97 2404.4M2292.76 2380.6 L2300.51 2392.5 L2292.76 2404.4" stroke="#000" stroke-width="2.78" fill="none" stroke-linecap="square" stroke-linejoin="miter"/>
<rect x="400.3" y="2362.5" width="24.4" height="60" fill="#000"/>
<rect x="1102" y="2362.5" width="15" height="60" fill="#000"/>
<rect x="2313.9" y="2362.5" width="25.7" height="60" fill="#000"/>
<g opacity="0.9999">
<text x="1600" y="97.8" font-size="55.56" text-anchor="middle" fill="#000">chr3:38178083:38178176:-@chr3:38175443:38175500:-@chr3:38173417:38173496:-@chr3:38170781:38170879:-</text>
<text x="763.3" y="422.3" font-size="33.33" text-anchor="middle" fill="#000">111</text>
<text x="1026.2" y="390.35" font-size="33.33" text-anchor="middle" fill="#000">2</text>
<text x="1715.65" y="363" font-size="33.33" text-anchor="middle" fill="#000">5</text>
<text x="1981.3" y="348.3" font-size="33.33" text-anchor="middle" fill="#000">38</text>
<text x="2339" y="321.5" font-size="44.44" text-anchor="end" fill="#CC0011" textLength="1174.1">ACAA1 PUM2_HepG2_2015-8-18_NC-1 IncLevel: 0.55</text>
<text x="361.11" y="353.09" font-size="44.44" text-anchor="end" fill="#000">95</text>
<text x="361.11" y="397.34" font-size="44.44" text-anchor="end" fill="#000">71.2</text>
<text x="361.11" y="441.59" font-size="44.44" text-anchor="end" fill="#000">47.5</text>
<text x="361.11" y="485.84" font-size="44.44" text-anchor="end" fill="#000">23.8</text>
<text transform="translate(230.5 415.45) rotate(-90)" font-size="44.44" text-anchor="middle" fill="#000">RPKM</text>
<text x="763.3" y="712.2" font-size="33.33" text-anchor="middle" fill="#000">151</text>
<text x="1026.2" y="682.1" font-size="33.33" text-anchor="middle" fill="#000">1</text>
<text x="1715.67" y="664.9" font-size="33.33" text-anchor="middle" fill="#000">1</text>
<text x="1981.32" y="653.3" font-size="33.33" text-anchor="middle" fill="#000">36</text>
<text x="2339" y="626.3" font-size="44.44" text-anchor="end" fill="#CC0011" textLength="1174.1">ACAA1 PUM2_HepG2_2015-8-18_NC-2 IncLevel: 0.44</text>
<text x="361.11" y="665.09" font-size="44.44" text-anchor="end" fill="#000">95</text>
<text x="361.11" y="709.34" font-size="44.44" text-anchor="end" fill="#000">71.2</text>
<text x="361.11" y="753.59" font-size="44.44" text-anchor="end" fill="#000">47.5</text>
<text x="361.11" y="797.84" font-size="44.44" text-anchor="end" fill="#000">23.8</text>
<text transform="translate(230.5 727.45) rotate(-90)" font-size="44.44" text-anchor="middle" fill="#000">RPKM</text>
<text x="763.3" y="1065.1" font-size="33.33" text-anchor="middle" fill="#000">123</text>
<text x="1026.2" y="1045.3" font-size="33.33" text-anchor="middle" fill="#000">5</text>
<text x="1715.65" y="1026.6" font-size="33.33" text-anchor="middle" fill="#000">3</text>
<text x="1981.3" y="1015" font-size="33.33" text-anchor="middle" fill="#000">48</text>
<text x="2339" y="972" font-size="44.44" text-anchor="end" fill="#FF8800" textLength="1252.5">ACAA1 PUM2_HepG2_2015-8-18_KD/KO-1 IncLevel: 0.69</text>
<text x="361.11" y="977.09" font-size="44.44" text-anchor="end" fill="#000">95</text>
<text x="361.11" y="1021.34" font-size="44.44" text-anchor="end" fill="#000">71.2</text>
<text x="361.11" y="1065.59" font-size="44.44" text-anchor="end" fill="#000">47.5</text>
<text x="361.11" y="1109.84" font-size="44.44" text-anchor="end" fill="#000">23.8</text>
<text transform="translate(230.5 1039.45) rotate(-90)" font-size="44.44" text-anchor="middle" fill="#000">RPKM</text>
<text x="763.3" y="1380.1" font-size="33.33" text-anchor="middle" fill="#000">121</text>
<text x="1026.35" y="1362.1" font-size="33.33" text-anchor="middle" fill="#000">5</text>
<text x="1715.6" y="1344.45" font-size="33.33" text-anchor="middle" fill="#000">2</text>
<text x="1981.1" y="1327.6" font-size="33.33" text-anchor="middle" fill="#000">32</text>
<text x="2339" y="1283.5" font-size="44.44" text-anchor="end" fill="#FF8800" textLength="1252.5">ACAA1 PUM2_HepG2_2015-8-18_KD/KO-2 IncLevel: 0.67</text>
<text x="361.11" y="1289.09" font-size="44.44" text-anchor="end" fill="#000">95</text>
<text x="361.11" y="1333.34" font-size="44.44" text-anchor="end" fill="#000">71.2</text>
<text x="361.11" y="1377.59" font-size="44.44" text-anchor="end" fill="#000">47.5</text>
<text x="361.11" y="1421.84" font-size="44.44" text-anchor="end" fill="#000">23.8</text>
<text transform="translate(230.5 1351.45) rotate(-90)" font-size="44.44" text-anchor="middle" fill="#000">RPKM</text>
<text x="400" y="1620.3" font-size="36.11" text-anchor="middle" fill="#000">38178177</text>
<text x="787.86" y="1620.3" font-size="36.11" text-anchor="middle" fill="#000">38176699</text>
<text x="1175.72" y="1620.3" font-size="36.11" text-anchor="middle" fill="#000">38175220</text>
<text x="1563.58" y="1620.3" font-size="36.11" text-anchor="middle" fill="#000">38173741</text>
<text x="1951.44" y="1620.3" font-size="36.11" text-anchor="middle" fill="#000">38172262</text>
<text x="2339.3" y="1620.3" font-size="36.11" text-anchor="middle" fill="#000">38170783</text>
<text x="1369.45" y="1683.1" font-size="44.44" text-anchor="middle" fill="#000" textLength="840">Genomic coordinate (chr3), &quot;-&quot; strand</text>
</g>
</svg>
</body></html>
